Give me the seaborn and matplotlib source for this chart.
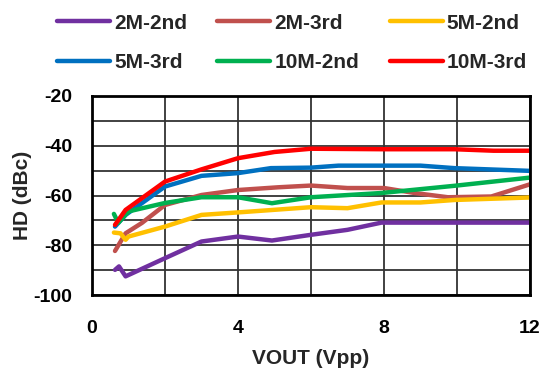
import matplotlib
matplotlib.use("Agg")
import matplotlib.pyplot as plt
import seaborn as sns
import pandas as pd

series_names = ["2M-2nd", "2M-3rd", "5M-2nd", "5M-3rd", "10M-2nd", "10M-3rd"]
colors = ["#7030A0", "#C0504D", "#FFC000", "#0070C0", "#00B050", "#FF0000"]

x_2m2 = [0.63, 0.74, 0.92, 2.0, 3.0, 4.0, 4.93, 6.0, 7.0, 7.93, 9.0, 10.0, 11.0, 12.0]
y_2m2 = [-89.9, -88.5, -92.5, -85.2, -78.5, -76.5, -78.1, -75.8, -73.8, -70.9, -70.9, -70.9, -70.9, -70.9]

x_2m3 = [0.63, 0.92, 1.37, 2.0, 3.0, 4.0, 5.1, 6.0, 7.0, 8.0, 8.84, 9.75, 10.94, 12.0]
y_2m3 = [-82.3, -75.2, -71.0, -63.8, -59.8, -57.8, -56.7, -56.0, -57.0, -57.0, -59.0, -60.7, -60.4, -55.5]

x_5m2 = [0.6, 0.78, 0.92, 1.0, 2.0, 3.0, 4.0, 6.0, 7.0, 7.93, 9.0, 9.93, 12.0]
y_5m2 = [-74.9, -75.2, -77.8, -76.5, -72.5, -67.8, -66.8, -64.7, -65.1, -62.8, -62.8, -61.8, -60.8]

x_5m3 = [0.63, 0.92, 2.0, 3.0, 4.0, 4.9, 6.0, 6.75, 8.0, 9.0, 9.93, 12.0]
y_5m3 = [-72.5, -67.8, -56.4, -52.1, -51.0, -49.0, -48.8, -48.0, -48.0, -48.0, -49.0, -50.1]

x_10m2 = [0.6, 0.72, 1.0, 2.0, 3.0, 4.0, 4.93, 6.0, 7.93, 9.93, 12.0]
y_10m2 = [-67.4, -71.0, -66.4, -63.0, -60.7, -60.7, -63.1, -60.7, -59.0, -56.1, -52.8]

x_10m3 = [0.63, 0.92, 2.0, 3.0, 4.0, 5.0, 6.0, 8.0, 9.93, 11.0, 12.0]
y_10m3 = [-71.8, -65.8, -54.4, -49.5, -45.0, -42.5, -41.2, -41.4, -41.4, -42.0, -42.0]

xs = [x_2m2, x_2m3, x_5m2, x_5m3, x_10m2, x_10m3]
ys = [y_2m2, y_2m3, y_5m2, y_5m3, y_10m2, y_10m3]

x_ticks = [0, 4, 8, 12]
y_ticks = [-100, -80, -60, -40, -20]

rows = []
for name, xv, yv in zip(series_names, xs, ys):
    for i, (a, b) in enumerate(zip(xv, yv)):
        rows.append({"series": name, "x": a, "y": b, "idx": i})
df = pd.DataFrame(rows)

sns.set_theme(style="white")
plt.rcParams["font.family"] = ["Liberation Sans", "DejaVu Sans"]
plt.rcParams["font.weight"] = "bold"

fig = plt.figure(figsize=(5.41, 3.76), dpi=100)
ax = fig.add_axes([92 / 541, 1 - 295 / 376, (530 - 92) / 541, (295 - 96) / 376])

sns.lineplot(data=df, x="x", y="y", hue="series", hue_order=series_names,
             palette=colors, units="series", estimator=None, sort=False,
             lw=3.2, ax=ax, legend=True)

ax.set_xlim(0, 12)
ax.set_ylim(-100, -20)
ax.set_xticks([0, 2, 4, 6, 8, 10, 12])
ax.set_xticklabels([str(v) if v in x_ticks else "" for v in [0, 2, 4, 6, 8, 10, 12]])
ax.set_yticks(list(range(-100, -19, 10)))
ax.set_yticklabels([str(v) if v in y_ticks else "" for v in range(-100, -19, 10)])
ax.grid(True, color="#333333", lw=1.3)
ax.set_axisbelow(True)
for s in ax.spines.values():
    s.set_color("black")
    s.set_linewidth(2)
ax.tick_params(axis="both", labelsize=14, colors="black", length=4, width=1.3,
               direction="out")
ax.tick_params(axis="y", pad=10)
ax.tick_params(axis="x", pad=14)
for lab in ax.get_xticklabels() + ax.get_yticklabels():
    lab.set_fontweight("bold")
ax.set_xlabel("VOUT (Vpp)", fontsize=15, fontweight="bold", labelpad=9)
ax.set_ylabel("HD (dBc)", fontsize=15, fontweight="bold", labelpad=1)

handles, labels = ax.get_legend_handles_labels()
ax.get_legend().remove()
hmap = dict(zip(labels, handles))
order = ["2M-2nd", "5M-3rd", "2M-3rd", "10M-2nd", "5M-2nd", "10M-3rd"]
leg = fig.legend([hmap[o] for o in order], order, ncol=3, loc="upper left",
                 bbox_to_anchor=(38 / 541, 1.0 + 5 / 376), frameon=False,
                 prop={"size": 15, "weight": "bold"}, handlelength=2.55,
                 handletextpad=0.2, columnspacing=1.45, labelspacing=0.98)
for h in leg.get_lines():
    h.set_linewidth(3.2)

fig.savefig("out.png", dpi=100)
